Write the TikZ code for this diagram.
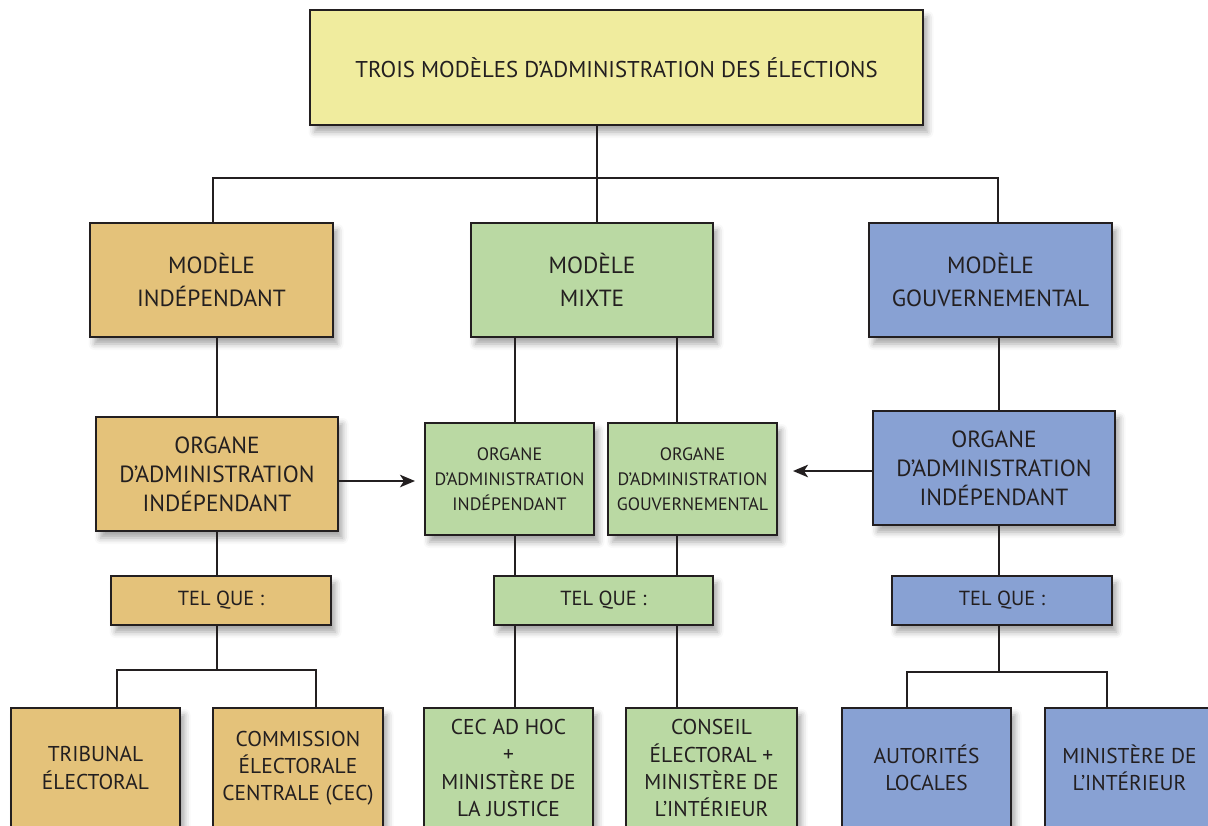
\documentclass[tikz,border=0pt]{standalone}
\usepackage{fontspec}
\setmainfont{PT Sans}
\usetikzlibrary{
	arrows.meta,
	shadows,
	shadows.blur
}
\definecolor{fondtop}{RGB}{240,236,158}
\definecolor{fondind}{RGB}{228,194,122}
\definecolor{fondmix}{RGB}{186,217,163}
\definecolor{fondgov}{RGB}{136,161,211}
\definecolor{trait}{RGB}{35,31,32}

\begin{document}
\begin{tikzpicture}[
    boite/.style={draw=trait,line width=1.1pt,text=trait,align=center,inner sep=0pt,
        blur shadow={shadow xshift=0.09cm,shadow yshift=-0.14cm,shadow blur radius=0.12cm,shadow opacity=35}},
    lien/.style={draw=trait,line width=1.1pt},
    txttop/.style={font=\fontsize{13}{15.6}\selectfont},
    txtmod/.style={font=\fontsize{13.3}{18.8}\selectfont},
    txtorg/.style={font=\fontsize{13.3}{16.5}\selectfont},
    txtpet/.style={font=\fontsize{10.2}{14.2}\selectfont},
    txttel/.style={font=\fontsize{11.6}{14}\selectfont},
    txtbas/.style={font=\fontsize{12.2}{15.4}\selectfont}
]
    \useasboundingbox (0,0) rectangle (24.16,-16.5);
    % Definitions
    \coordinate (TM)  at (12.33,-1.35);
    \coordinate (MI)  at (4.23,-5.6);
    \coordinate (MM)  at (11.84,-5.6);
    \coordinate (MG)  at (19.81,-5.6);
    \coordinate (OI)  at (4.34,-9.48);
    \coordinate (OMI) at (10.19,-9.58);
    \coordinate (OMG) at (13.85,-9.58);
    \coordinate (OG)  at (19.88,-9.36);
    \coordinate (TQI) at (4.42,-12.01);
    \coordinate (TQM) at (12.07,-12.01);
    \coordinate (TQG) at (20.04,-12.01);
    \coordinate (TE)  at (1.91,-15.36);
    \coordinate (CE)  at (5.96,-15.36);
    \coordinate (CA)  at (10.17,-15.36);
    \coordinate (CEI) at (14.23,-15.36);
    \coordinate (AL)  at (18.53,-15.36);
    \coordinate (MDI) at (22.59,-15.36);
    % Nodes
    \node(TrMo) at (TM)  [boite,txttop,fill=fondtop,minimum width=12.26cm,minimum height=2.3cm] {TROIS MODÈLES D’ADMINISTRATION DES ÉLECTIONS};
    \node(MoIn) at (MI)  [boite,txtmod,fill=fondind,minimum width=4.86cm,minimum height=2.28cm] {MODÈLE\\INDÉPENDANT};
    \node(MoMi) at (MM)  [boite,txtmod,fill=fondmix,minimum width=4.84cm,minimum height=2.28cm] {MODÈLE\\MIXTE};
    \node(MoGo) at (MG)  [boite,txtmod,fill=fondgov,minimum width=4.86cm,minimum height=2.28cm] {MODÈLE\\GOUVERNEMENTAL};
    \node(OrIn) at (OI)  [boite,txtorg,fill=fondind,minimum width=4.84cm,minimum height=2.28cm] {ORGANE\\D’ADMINISTRATION\\INDÉPENDANT};
    \node(OrMI) at (OMI) [boite,txtpet,fill=fondmix,minimum width=3.38cm,minimum height=2.24cm] {ORGANE\\D’ADMINISTRATION\\INDÉPENDANT};
    \node(OrMG) at (OMG) [boite,txtpet,fill=fondmix,minimum width=3.38cm,minimum height=2.24cm] {ORGANE\\D’ADMINISTRATION\\GOUVERNEMENTAL};
    \node(OrGo) at (OG)  [boite,txtorg,fill=fondgov,minimum width=4.84cm,minimum height=2.28cm] {ORGANE\\D’ADMINISTRATION\\INDÉPENDANT};
    \node(TqIn) at (TQI) [boite,txttel,fill=fondind,minimum width=4.4cm,minimum height=0.98cm]  {TEL QUE :};
    \node(TqMi) at (TQM) [boite,txttel,fill=fondmix,minimum width=4.38cm,minimum height=0.98cm] {TEL QUE :};
    \node(TqGo) at (TQG) [boite,txttel,fill=fondgov,minimum width=4.4cm,minimum height=0.98cm]  {TEL QUE :};
    \node(TrEl) at (TE)  [boite,txtbas,fill=fondind,minimum width=3.38cm,minimum height=2.4cm]  {TRIBUNAL\\ÉLECTORAL};
    \node(CoEl) at (CE)  [boite,txtbas,fill=fondind,minimum width=3.4cm,minimum height=2.4cm]   {COMMISSION\\ÉLECTORALE\\CENTRALE (CEC)};
    \node(CeAd) at (CA)  [boite,txtbas,fill=fondmix,minimum width=3.38cm,minimum height=2.4cm]  {CEC AD HOC\\+\\MINISTÈRE DE\\LA JUSTICE};
    \node(CoEi) at (CEI) [boite,txtbas,fill=fondmix,minimum width=3.42cm,minimum height=2.4cm]  {CONSEIL\\ÉLECTORAL +\\MINISTÈRE DE\\L’INTÉRIEUR};
    \node(AuLo) at (AL)  [boite,txtbas,fill=fondgov,minimum width=3.38cm,minimum height=2.4cm]  {AUTORITÉS\\LOCALES};
    \node(MiIn) at (MDI) [boite,txtbas,fill=fondgov,minimum width=3.38cm,minimum height=2.4cm]  {MINISTÈRE DE\\L’INTÉRIEUR};
    % Lines
    \coordinate (BusL)  at (4.26,-3.56);
    \coordinate (BusM)  at (11.94,-3.56);
    \coordinate (BusR)  at (19.96,-3.56);
    \coordinate (ColM1) at (10.3,0);
    \coordinate (ColM2) at (13.54,0);
    \coordinate (ColG)  at (19.98,0);
    \coordinate (BasIL) at (2.34,-13.4);
    \coordinate (BasIR) at (6.32,-13.4);
    \coordinate (BasGL) at (18.14,-13.44);
    \coordinate (BasGR) at (22.14,-13.44);
    \draw[lien] (TrMo.south -| BusM) -- (MoMi.north -| BusM);
    \draw[lien] (BusL |- MoIn.north) -- (BusL) -- (BusR) -- (BusR |- MoGo.north);
    \draw[lien] (MoIn.south -| OrIn) -- (OrIn.north);
    \draw[lien] (OrIn.south) -- (TqIn.north -| OrIn);
    \draw[lien] (TqIn.south -| OrIn) -- (OrIn |- BasIL);
    \draw[lien] (TrEl.north -| BasIL) -- (BasIL) -- (BasIR) -- (CoEl.north -| BasIR);
    \draw[lien] (MoMi.south -| ColM1) -- (OrMI.north -| ColM1);
    \draw[lien] (OrMI.south -| ColM1) -- (TqMi.north -| ColM1);
    \draw[lien] (TqMi.south -| ColM1) -- (CeAd.north -| ColM1);
    \draw[lien] (MoMi.south -| ColM2) -- (OrMG.north -| ColM2);
    \draw[lien] (OrMG.south -| ColM2) -- (TqMi.north -| ColM2);
    \draw[lien] (TqMi.south -| ColM2) -- (CoEi.north -| ColM2);
    \draw[lien] (MoGo.south -| ColG) -- (OrGo.north -| ColG);
    \draw[lien] (OrGo.south -| ColG) -- (TqGo.north -| ColG);
    \draw[lien] (TqGo.south -| ColG) -- (ColG |- BasGL);
    \draw[lien] (AuLo.north -| BasGL) -- (BasGL) -- (BasGR) -- (MiIn.north -| BasGR);
    % Arrows
    \coordinate (FlI) at (8.3,-9.62);
    \coordinate (FlG) at (15.86,-9.42);
    \draw[->,>={Stealth[length=0.3cm,width=0.25cm,inset=0.08cm]},lien] (OrIn.east |- FlI) -- (FlI);
    \draw[->,>={Stealth[length=0.3cm,width=0.25cm,inset=0.08cm]},lien] (OrGo.west |- FlG) -- (FlG);
\end{tikzpicture}
\end{document}
